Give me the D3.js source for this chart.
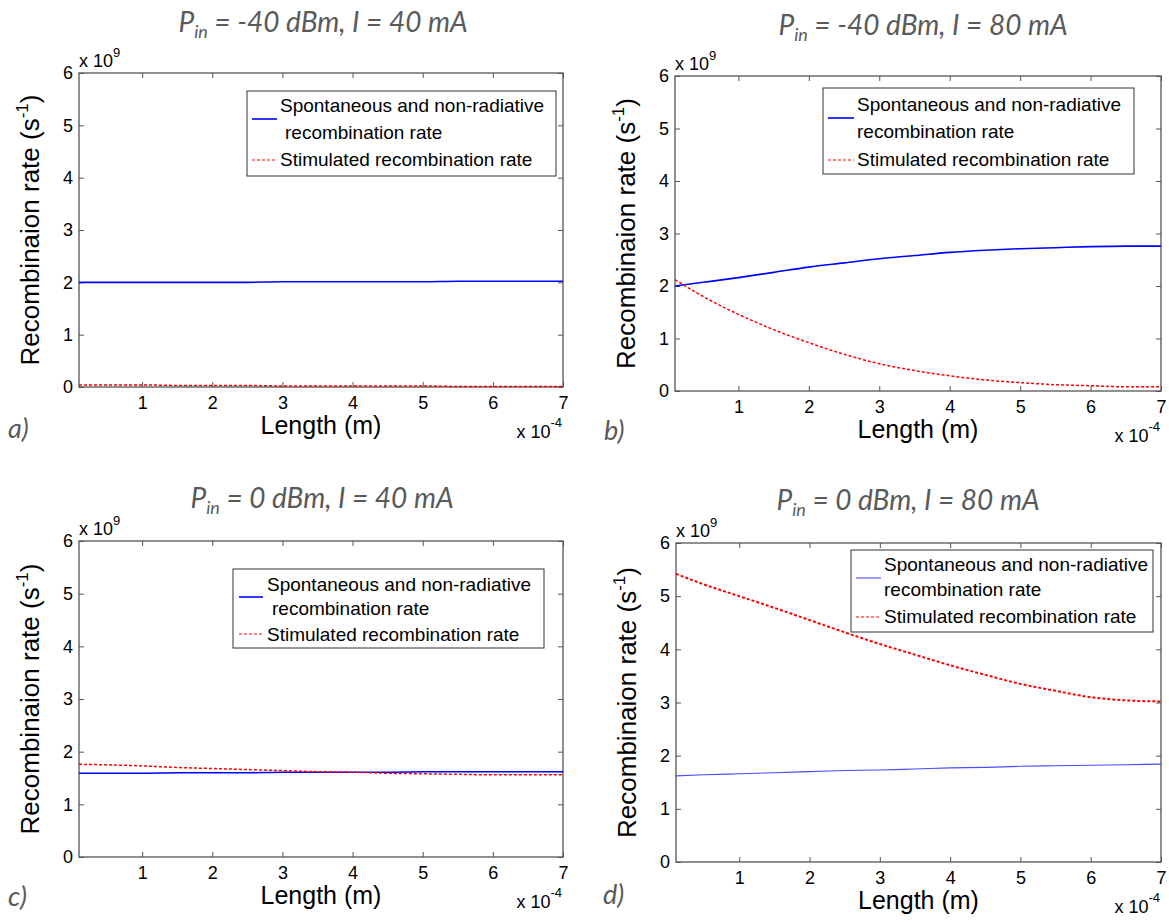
<!DOCTYPE html>
<html><head><meta charset="utf-8">
<script src="https://cdn.jsdelivr.net/npm/d3@7"></script>
<style>body{margin:0;background:#fff}svg{display:block}</style>
</head><body><svg id="chart" width="1169" height="922"></svg>
<script>
// ---- data (length in units of 1e-4 m, rates in units of 1e9 s^-1) ----
const xLength = [0.1,0.5,1,1.5,2,2.5,3,3.5,4,4.5,5,5.5,6,6.5,7];
const spontA = [2.00,2.00,2.00,2.00,2.00,2.00,2.01,2.01,2.01,2.01,2.01,2.02,2.02,2.02,2.02];
const stimA  = [0.04,0.04,0.04,0.03,0.03,0.03,0.02,0.02,0.02,0.02,0.02,0.01,0.01,0.01,0.01];
const spontB = [2.00,2.07,2.16,2.26,2.36,2.44,2.52,2.58,2.64,2.68,2.71,2.73,2.75,2.76,2.76];
const stimB  = [2.12,1.80,1.46,1.17,0.92,0.70,0.52,0.39,0.29,0.21,0.16,0.12,0.10,0.08,0.08];
const spontC = [1.59,1.59,1.59,1.60,1.60,1.60,1.61,1.61,1.61,1.61,1.62,1.62,1.62,1.62,1.62];
const stimC  = [1.76,1.75,1.73,1.70,1.68,1.66,1.64,1.62,1.61,1.59,1.58,1.57,1.56,1.56,1.56];
const spontD = [1.62,1.64,1.66,1.68,1.70,1.72,1.73,1.75,1.77,1.78,1.80,1.81,1.82,1.83,1.84];
const stimD  = [5.42,5.22,5.00,4.78,4.55,4.32,4.10,3.90,3.70,3.52,3.35,3.22,3.10,3.04,3.02];
const xTicks = [1,2,3,4,5,6,7];
const yTicks = [0,1,2,3,4,5,6];
const titlePower = ["-40","-40","0","0"];
const titleCurrent = ["40","80","40","80"];
const panelLetters = ["a)","b)","c)","d)"];
const legendSpont = ["Spontaneous and non-radiative","recombination rate"];
const legendStim = "Stimulated recombination rate";
const yLabelText = "Recombinaion rate (s";
const xLabelText = "Length (m)";

const spontSeries = [spontA, spontB, spontC, spontD];
const stimSeries = [stimA, stimB, stimC, stimD];

// ---- layout ----
const layout = [
  {L:79, R:563, T:73, B:387, title:[323,32], letter:[8,438],
   lg:{x:247,y:91,w:309,h:85,tx:280,ind:5,rows:[112,139,166],s:[252,277],sy:119,ry:160}, sw:1.6, sc:"#0000ff", rw:1.5},
  {L:675, R:1161, T:76, B:391, title:[923,35], letter:[604,440],
   lg:{x:823,y:88,w:311,h:86,tx:857,ind:0,rows:[111,138,166],s:[828,854],sy:118,ry:160}, sw:1.6, sc:"#0000ff", rw:1.5},
  {L:79, R:563, T:541, B:857, title:[322,508], letter:[8,906],
   lg:{x:233,y:569,w:311,h:79,tx:267,ind:5,rows:[591,615,641],s:[239,263],sy:597,ry:634}, sw:1.6, sc:"#0000ff", rw:1.5},
  {L:676, R:1161, T:543, B:862, title:[908,510], letter:[603,904],
   lg:{x:851,y:550,w:302,h:82,tx:884,ind:0,rows:[571,596,623],s:[856,881],sy:578,ry:617}, sw:1.1, sc:"#4a4aff", rw:2}
];

const svg = d3.select("#chart");
const axisColor = "#555";
const grayText = "#5a5a5a";
const sans = "'Liberation Sans', Arial, sans-serif";
const titleFont = "Lato, 'Open Sans', sans-serif";

layout.forEach((p, i) => {
  const g = svg.append("g");
  const x = d3.scaleLinear().domain([0.1, 7]).range([p.L, p.R]);
  const y = d3.scaleLinear().domain([0, 6]).range([p.B, p.T]);

  // title
  const t = g.append("text").attr("x", p.title[0]).attr("y", p.title[1])
    .attr("text-anchor", "middle").attr("font-family", titleFont)
    .attr("font-style", "italic").attr("font-size", 28).attr("fill", grayText);
  t.append("tspan").text("P");
  t.append("tspan").attr("dy", 6).attr("font-size", 18).text("in");
  t.append("tspan").attr("dy", -6).text(` = ${titlePower[i]} dBm, I = ${titleCurrent[i]} mA`);

  // panel letter
  g.append("text").attr("x", p.letter[0]).attr("y", p.letter[1])
    .attr("font-family", titleFont).attr("font-style", "italic")
    .attr("font-size", 27).attr("fill", grayText).text(panelLetters[i]);

  // axes
  const styleAxis = sel => {
    sel.select(".domain").remove();
    sel.selectAll(".tick line").attr("stroke", axisColor).attr("stroke-width", 1);
    sel.selectAll(".tick text").attr("fill", "#000").attr("font-family", sans).attr("font-size", 18);
  };
  g.append("g").attr("transform", `translate(0,${p.B})`)
    .call(d3.axisBottom(x).tickValues(xTicks).tickSize(-5).tickPadding(9).tickFormat(d3.format("d")))
    .call(styleAxis);
  g.append("g").attr("transform", `translate(0,${p.T})`)
    .call(d3.axisTop(x).tickValues(xTicks).tickSize(-5).tickFormat(""))
    .call(styleAxis);
  g.append("g").attr("transform", `translate(${p.L},0)`)
    .call(d3.axisLeft(y).tickValues(yTicks).tickSize(-5).tickPadding(6).tickFormat(d3.format("d")))
    .call(styleAxis);
  g.append("g").attr("transform", `translate(${p.R},0)`)
    .call(d3.axisRight(y).tickValues(yTicks).tickSize(-5).tickFormat(""))
    .call(styleAxis);
  g.append("rect").attr("x", p.L).attr("y", p.T).attr("width", p.R - p.L).attr("height", p.B - p.T)
    .attr("fill", "none").attr("stroke", axisColor).attr("stroke-width", 1.3);

  // exponent labels
  const e9 = g.append("text").attr("x", p.L).attr("y", p.T - 6)
    .attr("font-family", sans).attr("font-size", 18).attr("fill", "#000");
  e9.append("tspan").text("x 10");
  e9.append("tspan").attr("dy", -10).attr("font-size", 13).text("9");
  const e4 = g.append("text").attr("x", p.R - 1).attr("y", p.B + 51).attr("text-anchor", "end")
    .attr("font-family", sans).attr("font-size", 18).attr("fill", "#000");
  e4.append("tspan").text("x 10");
  e4.append("tspan").attr("dy", -11).attr("font-size", 13).text("-4");

  // axis labels
  g.append("text").attr("x", (p.L + p.R) / 2).attr("y", p.B + 47).attr("text-anchor", "middle")
    .attr("font-family", sans).attr("font-size", 25).attr("fill", "#000").text(xLabelText);
  const yl = g.append("text")
    .attr("transform", `translate(${p.L - 40},${(p.T + p.B) / 2}) rotate(-90)`)
    .attr("text-anchor", "middle").attr("font-family", sans).attr("font-size", 26).attr("fill", "#000");
  yl.append("tspan").text(yLabelText);
  yl.append("tspan").attr("dy", -11).attr("font-size", 17).text("-1");
  yl.append("tspan").attr("dy", 11).text(")");

  // lines
  const line = d3.line().x(d => x(d[0])).y(d => y(d[1])).curve(d3.curveMonotoneX);
  g.append("path").datum(d3.zip(xLength, spontSeries[i])).attr("d", line)
    .attr("fill", "none").attr("stroke", p.sc).attr("stroke-width", p.sw);
  g.append("path").datum(d3.zip(xLength, stimSeries[i])).attr("d", line)
    .attr("fill", "none").attr("stroke", "#ff0000").attr("stroke-width", p.rw)
    .attr("stroke-dasharray", "3,2");

  // legend
  const lg = p.lg;
  g.append("rect").attr("x", lg.x).attr("y", lg.y).attr("width", lg.w).attr("height", lg.h)
    .attr("fill", "#fff").attr("stroke", "#333").attr("stroke-width", 1);
  g.append("line").attr("x1", lg.s[0]).attr("x2", lg.s[1]).attr("y1", lg.sy).attr("y2", lg.sy)
    .attr("stroke", p.sc).attr("stroke-width", p.sw);
  g.append("line").attr("x1", lg.s[0]).attr("x2", lg.s[1]).attr("y1", lg.ry).attr("y2", lg.ry)
    .attr("stroke", "#ff0000").attr("stroke-width", 1.2).attr("stroke-dasharray", "3,2");
  const lt = [legendSpont[0], legendSpont[1], legendStim];
  lt.forEach((s, k) => {
    g.append("text").attr("x", lg.tx + (k === 1 ? lg.ind : 0)).attr("y", lg.rows[k])
      .attr("font-family", sans).attr("font-size", 19).attr("fill", "#000").text(s);
  });
});
</script></body></html>
